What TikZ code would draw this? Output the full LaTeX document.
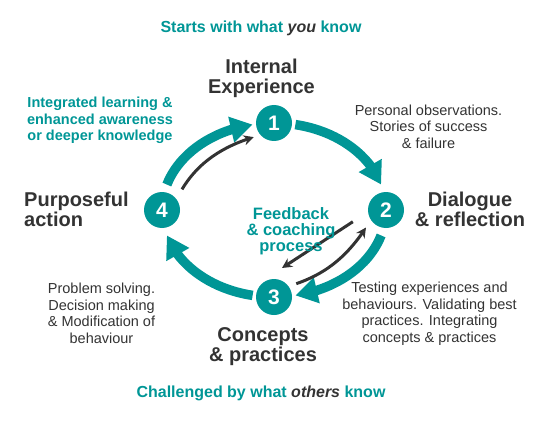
\documentclass[tikz,border=0pt]{standalone}
\usepackage{fontspec}
\setmainfont{Liberation Sans}
\usetikzlibrary{arrows.meta,bending}
\definecolor{cycleteal}{RGB}{0,150,150}
\definecolor{inkgray}{RGB}{51,51,51}

\tikzset{
  stagenum/.style={circle, fill=cycleteal, minimum size=36pt, inner sep=0pt,
    text=white, font=\fontsize{21}{21}\selectfont\bfseries},
  ringarc/.style={cycleteal, line width=9.5pt, -{Triangle[width=25pt,length=22pt]}},
  loopback/.style={inkgray, line width=3pt, -{Stealth[length=10pt,width=10pt]}},
  stagetitle/.style={text=inkgray, align=center, inner sep=0pt,
    font=\fontsize{20}{20}\selectfont\bfseries},
  stagenote/.style={text=inkgray, align=center, inner sep=0pt,
    font=\fontsize{14.5}{16.5}\selectfont},
  tealnote/.style={text=cycleteal, align=center, inner sep=0pt,
    font=\fontsize{14.5}{16.5}\selectfont\bfseries},
  fbnote/.style={text=cycleteal, align=center, inner sep=0pt,
    font=\fontsize{16.5}{16}\selectfont\bfseries},
  banner/.style={text=cycleteal, inner sep=0pt,
    font=\fontsize{16}{16}\selectfont\bfseries}
}

\begin{document}
\begin{tikzpicture}[x=1pt, y=1pt]
  % Page frame, same proportions as the original
  \useasboundingbox (0,0) rectangle (540,421);

  % Centre and radii of the cycle
  \coordinate (ctr) at (274,211);
  \def\rx{112} \def\ry{87}

  % Stage numbers on the cycle
  \node[stagenum] (n1) at (274,298) {1};
  \node[stagenum] (n2) at (386,211) {2};
  \node[stagenum] (n3) at (274,124) {3};
  \node[stagenum] (n4) at (162,211) {4};

  % Teal arcs between the stages, running clockwise
  \draw[ringarc] (ctr) ++(79:\rx pt and \ry pt) arc[start angle=79, end angle=17, x radius=\rx pt, y radius=\ry pt];
  \draw[ringarc] (ctr) ++(-17:\rx pt and \ry pt) arc[start angle=-17, end angle=-79, x radius=\rx pt, y radius=\ry pt];
  \draw[ringarc] (ctr) ++(-101:\rx pt and \ry pt) arc[start angle=-101, end angle=-163, x radius=\rx pt, y radius=\ry pt];
  \draw[ringarc] (ctr) ++(163:\rx pt and \ry pt) arc[start angle=163, end angle=101, x radius=\rx pt, y radius=\ry pt];

  % Inner dark arrows
  \draw[loopback, shorten <=11pt, shorten >=7pt] (n4.38) to[bend left=22] (n1.222);
  \draw[loopback, shorten <=8pt, shorten >=9pt] (n3.36) to[bend right=20] (n2.213);
  \coordinate (fbtip) at (282,153);
  \draw[loopback, shorten <=18pt] (n2.186) -- (fbtip);

  % Top and bottom lines
  \node[banner] (topline) at (261,393) {Starts with what {\color{inkgray}\itshape you} know};
  \node[banner] (bottomline) at (261,28) {Challenged by what {\color{inkgray}\itshape others} know};

  % Stage titles
  \node[stagetitle] (t1) at (261.5,343) {Internal\\Experience};
  \node[stagetitle] (t2) at (470,212) {Dialogue\\\& reflection};
  \node[stagetitle] (t3) at (263,74) {Concepts\\\& practices};
  \node[stagetitle, anchor=west, align=left] (t4) at (24,212) {Purposeful\\action};

  % Notes between the stages
  \node[tealnote] (s41) at (100,300.5) {Integrated learning \&\\enhanced awareness\\or deeper knowledge};
  \node[stagenote] (s12) at (428.5,294.5) {Personal observations.\\Stories of success\\\& failure};
  \node[stagenote] (s23) at (429.5,107.5) {Testing experiences and\\behaviours. Validating best\\practices. Integrating\\concepts \& practices};
  \node[stagenote] (s34) at (101.5,107.5) {Problem solving.\\Decision making\\\& Modification of\\behaviour};
  \node[fbnote] (fb) at (291,190) {Feedback\\\& coaching\\process};
\end{tikzpicture}
\end{document}
